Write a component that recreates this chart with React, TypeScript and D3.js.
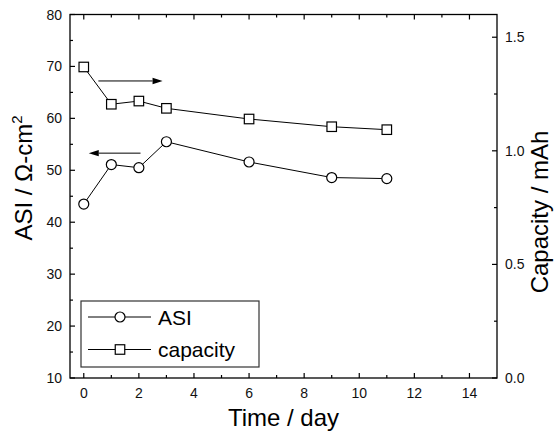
import React from "react";
import * as d3 from "d3";

const days = [0, 1, 2, 3, 6, 9, 11];
const asi = [43.5, 51.1, 50.5, 55.5, 51.6, 48.6, 48.4];
const capacity = [1.369, 1.205, 1.219, 1.187, 1.14, 1.106, 1.093];
const xTicks = [0, 2, 4, 6, 8, 10, 12, 14];
const xMinor = [1, 3, 5, 7, 9, 11, 13];
const yLeftTicks = [10, 20, 30, 40, 50, 60, 70, 80];
const yLeftMinor = [15, 25, 35, 45, 55, 65, 75];
const yRightTicks = [0, 0.5, 1.0, 1.5];
const yRightMinor = [0.25, 0.75, 1.25];
// arrows: [x1, x2, y on left axis]
const arrowRight = [0.53, 2.86, 67.2];
const arrowLeft = [2.06, 0.18, 53.3];

const W = 556, H = 435;
const L = 70, R = 497, T = 14.5, B = 378;

export default function App() {
  const x = d3.scaleLinear().domain([-0.5, 15]).range([L, R]);
  const yL = d3.scaleLinear().domain([10, 80]).range([B, T]);
  const yR = d3.scaleLinear().domain([0, 1.6]).range([B, T]);
  const lineA = d3.line<number>().x((_, i) => x(days[i])).y((d) => yL(d));
  const lineC = d3.line<number>().x((_, i) => x(days[i])).y((d) => yR(d));
  const font = "Liberation Sans, Arial, sans-serif";
  const sq = 9.5;
  const arrow = (a: number[], key: string) => {
    const x1 = x(a[0]), x2 = x(a[1]), y = yL(a[2]);
    const dir = Math.sign(x2 - x1);
    const hl = 10, hw = 3.2;
    return (
      <g key={key}>
        <line x1={x1} x2={x2 - dir * hl} y1={y} y2={y} stroke="#000" strokeWidth={1} />
        <path d={`M${x2},${y}L${x2 - dir * hl},${y - hw}L${x2 - dir * hl},${y + hw}Z`} fill="#000" />
      </g>
    );
  };
  return (
    <svg width={W} height={H} style={{ position: "absolute", left: 0, top: 0, background: "#fff" }} fontFamily={font}>
      <rect x={0} y={0} width={W} height={H} fill="#fff" />
      {/* frame */}
      <rect x={L} y={T} width={R - L} height={B - T} fill="none" stroke="#000" strokeWidth={1.3} />
      {/* bottom & top ticks */}
      {xTicks.map((t) => (
        <g key={"xt" + t}>
          <line x1={x(t)} x2={x(t)} y1={B} y2={B - 5} stroke="#000" strokeWidth={1.2} />
          <line x1={x(t)} x2={x(t)} y1={T} y2={T + 5} stroke="#000" strokeWidth={1.2} />
          <text x={x(t)} y={B + 20} textAnchor="middle" fontSize={14} fill="#111">{t}</text>
        </g>
      ))}
      {xMinor.map((t) => (
        <g key={"xm" + t}>
          <line x1={x(t)} x2={x(t)} y1={B} y2={B - 3} stroke="#000" strokeWidth={1.2} />
          <line x1={x(t)} x2={x(t)} y1={T} y2={T + 3} stroke="#000" strokeWidth={1.2} />
        </g>
      ))}
      {/* left ticks */}
      {yLeftTicks.map((t) => (
        <g key={"yl" + t}>
          <line x1={L} x2={L + 5} y1={yL(t)} y2={yL(t)} stroke="#000" strokeWidth={1.2} />
          <text x={L - 8} y={yL(t) + 5} textAnchor="end" fontSize={14} fill="#111">{t}</text>
        </g>
      ))}
      {yLeftMinor.map((t) => (
        <line key={"ylm" + t} x1={L} x2={L + 3} y1={yL(t)} y2={yL(t)} stroke="#000" strokeWidth={1.2} />
      ))}
      {/* right ticks */}
      {yRightTicks.map((t) => (
        <g key={"yr" + t}>
          <line x1={R} x2={R - 5} y1={yR(t)} y2={yR(t)} stroke="#000" strokeWidth={1.2} />
          <text x={R + 8} y={yR(t) + 5} textAnchor="start" fontSize={14} fill="#111">{t.toFixed(1)}</text>
        </g>
      ))}
      {yRightMinor.map((t) => (
        <line key={"yrm" + t} x1={R} x2={R - 3} y1={yR(t)} y2={yR(t)} stroke="#000" strokeWidth={1.2} />
      ))}
      {/* series */}
      <path d={lineA(asi) || ""} fill="none" stroke="#000" strokeWidth={1} />
      <path d={lineC(capacity) || ""} fill="none" stroke="#000" strokeWidth={1} />
      {asi.map((v, i) => (
        <circle key={"a" + i} cx={x(days[i])} cy={yL(v)} r={5} fill="#fff" stroke="#000" strokeWidth={1.2} />
      ))}
      {capacity.map((v, i) => (
        <rect key={"c" + i} x={x(days[i]) - sq / 2} y={yR(v) - sq / 2} width={sq} height={sq} fill="#fff" stroke="#000" strokeWidth={1.2} />
      ))}
      {arrow(arrowRight, "ar")}
      {arrow(arrowLeft, "al")}
      {/* legend */}
      <rect x={81} y={301} width={178} height={66} fill="#fff" stroke="#333" strokeWidth={1.2} />
      <line x1={88} x2={151} y1={317} y2={317} stroke="#000" strokeWidth={1} />
      <circle cx={120} cy={317} r={5} fill="#fff" stroke="#000" strokeWidth={1.2} />
      <text x={158} y={325} fontSize={21} fill="#000">ASI</text>
      <line x1={88} x2={151} y1={349.5} y2={349.5} stroke="#000" strokeWidth={1} />
      <rect x={120 - sq / 2} y={349.5 - sq / 2} width={sq} height={sq} fill="#fff" stroke="#000" strokeWidth={1.2} />
      <text x={158} y={357} fontSize={21} fill="#000">capacity</text>
      {/* titles */}
      <text x={(L + R) / 2} y={426} textAnchor="middle" fontSize={24} fill="#000">Time / day</text>
      <text transform={`translate(32,178) rotate(-90)`} textAnchor="middle" fontSize={24} fill="#000">
        ASI / Ω-cm<tspan fontSize={15} dy={-10}>2</tspan>
      </text>
      <text transform={`translate(548,212) rotate(-90)`} textAnchor="middle" fontSize={24} fill="#000">Capacity / mAh</text>
    </svg>
  );
}
